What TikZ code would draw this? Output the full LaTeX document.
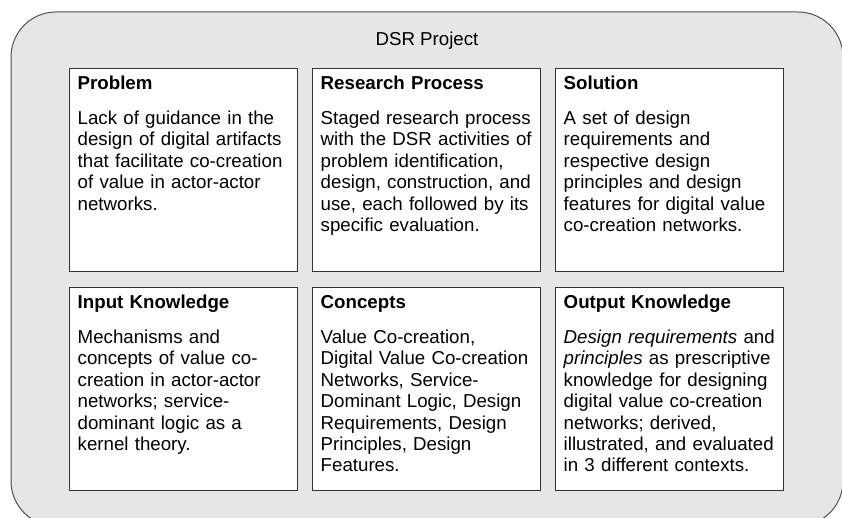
\documentclass[tikz,border=0pt]{standalone}
\usepackage{fontspec}
\setmainfont{Liberation Sans}
\usetikzlibrary{positioning}

\definecolor{projfill}{HTML}{E6E6E6}
\definecolor{projline}{HTML}{505050}
\definecolor{boxline}{HTML}{333333}

\tikzset{
    panel/.style={draw=boxline, fill=white, line width=0.9pt, anchor=north west,
        minimum width=228pt, minimum height=203pt, inner sep=0pt},
    paneltext/.style={anchor=base west, align=left, text width=216pt, inner sep=0pt},
    headgap/.store in=\headgap, headgap=13.6pt
}

\begin{document}
\begin{tikzpicture}[x=1pt, y=-1pt, every node/.style={font=\fontsize{18.7pt}{21.4pt}\selectfont}]
    \clip (0,0) rectangle (842,518);

    % project frame
    \draw[projline, fill=projfill, line width=1pt, rounded corners=45pt] (11,12) rectangle (843,526);
    \node (title) at (427,40.5) {DSR Project};

    \begin{scope}[every node/.append style={panel}]
        \node (problem) at (69,68) {};
        \node (process) at (312,68) {};
        \node (solution) at (555,68) {};
        \node (input) at (69,287) {};
        \node (concepts) at (312,287) {};
        \node (output) at (555,287) {};
    \end{scope}

    \begin{scope}[every node/.append style={paneltext}]
        \node (problemtext) at ([xshift=8.5pt, yshift=-21.5pt]problem.north west)
            {\textbf{Problem}\\[\headgap]
             Lack of guidance in the\\
             design of digital artifacts\\
             that facilitate co-creation\\
             of value in actor-actor\\
             networks.};
        \node (processtext) at ([xshift=8.5pt, yshift=-21.5pt]process.north west)
            {\textbf{Research Process}\\[\headgap]
             Staged research process\\
             with the DSR activities of\\
             problem identification,\\
             design, construction, and\\
             use, each followed by its\\
             specific evaluation.};
        \node (solutiontext) at ([xshift=8.5pt, yshift=-21.5pt]solution.north west)
            {\textbf{Solution}\\[\headgap]
             A set of design\\
             requirements and\\
             respective design\\
             principles and design\\
             features for digital value\\
             co-creation networks.};
        \node (inputtext) at ([xshift=8.5pt, yshift=-21.5pt]input.north west)
            {\textbf{Input Knowledge}\\[\headgap]
             Mechanisms and\\
             concepts of value co-\\
             creation in actor-actor\\
             networks; service-\\
             dominant logic as a\\
             kernel theory.};
        \node (conceptstext) at ([xshift=8.5pt, yshift=-21.5pt]concepts.north west)
            {\textbf{Concepts}\\[\headgap]
             Value Co-creation,\\
             Digital Value Co-creation\\
             Networks, Service-\\
             Dominant Logic, Design\\
             Requirements, Design\\
             Principles, Design\\
             Features.};
        \node (outputtext) at ([xshift=8.5pt, yshift=-21.5pt]output.north west)
            {\textbf{Output Knowledge}\\[\headgap]
             \textit{Design requirements} and\\
             \textit{principles} as prescriptive\\
             knowledge for designing\\
             digital value co-creation\\
             networks; derived,\\
             illustrated, and evaluated\\
             in 3 different contexts.};
    \end{scope}
\end{tikzpicture}
\end{document}
